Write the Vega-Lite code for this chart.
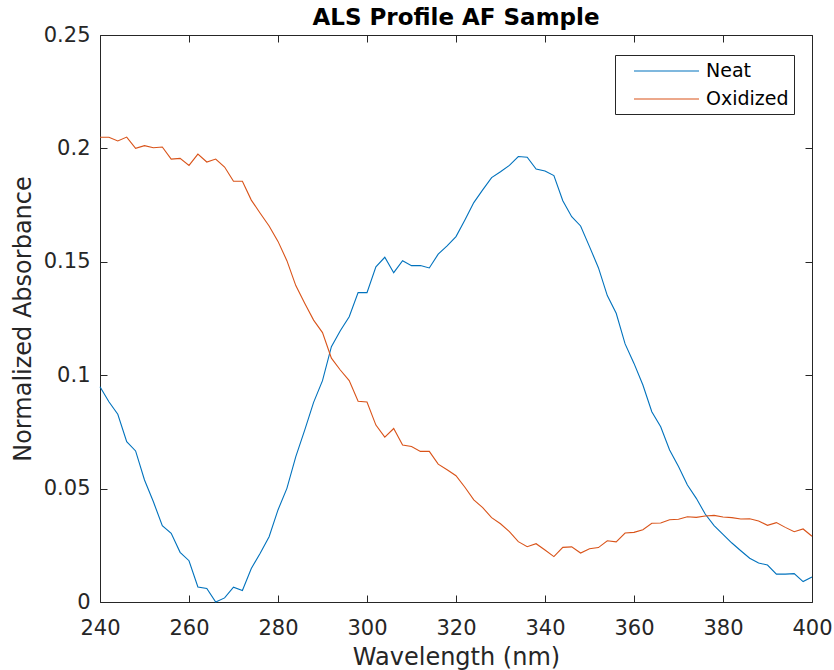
{
  "$schema": "https://vega.github.io/schema/vega-lite/v6.json",
  "autosize": {"type": "none"},
  "width": 712,
  "height": 567,
  "padding": {"left": 100, "top": 35, "right": 22, "bottom": 68},
  "background": "white",
  "config": {
    "font": "DejaVu Sans",
    "view": {"stroke": null},
    "axis": {
      "grid": false,
      "domainColor": "#262626",
      "tickColor": "#262626",
      "labelColor": "#262626",
      "titleColor": "#262626",
      "labelFont": "DejaVu Sans",
      "titleFont": "DejaVu Sans",
      "labelFontSize": 21,
      "titleFontSize": 24,
      "titleFontWeight": "normal",
      "tickSize": -7,
      "domainWidth": 1,
      "tickWidth": 1,
      "labelFlush": false,
      "labelOverlap": false
    }
  },
  "title": {
    "text": "ALS Profile AF Sample",
    "fontSize": 23,
    "fontWeight": "bold",
    "font": "DejaVu Sans",
    "color": "black",
    "offset": -6
  },
  "data": {"values": [
    {"wl":240,"s":"Neat","a":0.0949},{"wl":242,"s":"Neat","a":0.0883},{"wl":244,"s":"Neat","a":0.0828},{"wl":246,"s":"Neat","a":0.0707},{"wl":248,"s":"Neat","a":0.0666},
    {"wl":250,"s":"Neat","a":0.0538},{"wl":252,"s":"Neat","a":0.0442},{"wl":254,"s":"Neat","a":0.0336},{"wl":256,"s":"Neat","a":0.0303},{"wl":258,"s":"Neat","a":0.0219},
    {"wl":260,"s":"Neat","a":0.0182},{"wl":262,"s":"Neat","a":0.0066},{"wl":264,"s":"Neat","a":0.0060},{"wl":266,"s":"Neat","a":0.0000},{"wl":268,"s":"Neat","a":0.0018},
    {"wl":270,"s":"Neat","a":0.0065},{"wl":272,"s":"Neat","a":0.0051},{"wl":274,"s":"Neat","a":0.0148},{"wl":276,"s":"Neat","a":0.0215},{"wl":278,"s":"Neat","a":0.0288},
    {"wl":280,"s":"Neat","a":0.0406},{"wl":282,"s":"Neat","a":0.0501},{"wl":284,"s":"Neat","a":0.0641},{"wl":286,"s":"Neat","a":0.0758},{"wl":288,"s":"Neat","a":0.0880},
    {"wl":290,"s":"Neat","a":0.0976},{"wl":292,"s":"Neat","a":0.1126},{"wl":294,"s":"Neat","a":0.1196},{"wl":296,"s":"Neat","a":0.1258},{"wl":298,"s":"Neat","a":0.1364},
    {"wl":300,"s":"Neat","a":0.1364},{"wl":302,"s":"Neat","a":0.1478},{"wl":304,"s":"Neat","a":0.1520},{"wl":306,"s":"Neat","a":0.1452},{"wl":308,"s":"Neat","a":0.1505},
    {"wl":310,"s":"Neat","a":0.1483},{"wl":312,"s":"Neat","a":0.1484},{"wl":314,"s":"Neat","a":0.1473},{"wl":316,"s":"Neat","a":0.1534},{"wl":318,"s":"Neat","a":0.1570},
    {"wl":320,"s":"Neat","a":0.1611},{"wl":322,"s":"Neat","a":0.1684},{"wl":324,"s":"Neat","a":0.1761},{"wl":326,"s":"Neat","a":0.1817},{"wl":328,"s":"Neat","a":0.1871},
    {"wl":330,"s":"Neat","a":0.1897},{"wl":332,"s":"Neat","a":0.1925},{"wl":334,"s":"Neat","a":0.1964},{"wl":336,"s":"Neat","a":0.1961},{"wl":338,"s":"Neat","a":0.1909},
    {"wl":340,"s":"Neat","a":0.1900},{"wl":342,"s":"Neat","a":0.1880},{"wl":344,"s":"Neat","a":0.1769},{"wl":346,"s":"Neat","a":0.1699},{"wl":348,"s":"Neat","a":0.1658},
    {"wl":350,"s":"Neat","a":0.1567},{"wl":352,"s":"Neat","a":0.1474},{"wl":354,"s":"Neat","a":0.1351},{"wl":356,"s":"Neat","a":0.1273},{"wl":358,"s":"Neat","a":0.1138},
    {"wl":360,"s":"Neat","a":0.1052},{"wl":362,"s":"Neat","a":0.0957},{"wl":364,"s":"Neat","a":0.0839},{"wl":366,"s":"Neat","a":0.0773},{"wl":368,"s":"Neat","a":0.0670},
    {"wl":370,"s":"Neat","a":0.0597},{"wl":372,"s":"Neat","a":0.0516},{"wl":374,"s":"Neat","a":0.0457},{"wl":376,"s":"Neat","a":0.0388},{"wl":378,"s":"Neat","a":0.0337},
    {"wl":380,"s":"Neat","a":0.0298},{"wl":382,"s":"Neat","a":0.0260},{"wl":384,"s":"Neat","a":0.0226},{"wl":386,"s":"Neat","a":0.0193},{"wl":388,"s":"Neat","a":0.0172},
    {"wl":390,"s":"Neat","a":0.0163},{"wl":392,"s":"Neat","a":0.0123},{"wl":394,"s":"Neat","a":0.0123},{"wl":396,"s":"Neat","a":0.0125},{"wl":398,"s":"Neat","a":0.0090},
    {"wl":400,"s":"Neat","a":0.0110},
    {"wl":240,"s":"Oxidized","a":0.2049},{"wl":242,"s":"Oxidized","a":0.2049},{"wl":244,"s":"Oxidized","a":0.2033},{"wl":246,"s":"Oxidized","a":0.2050},{"wl":248,"s":"Oxidized","a":0.2000},
    {"wl":250,"s":"Oxidized","a":0.2012},{"wl":252,"s":"Oxidized","a":0.2003},{"wl":254,"s":"Oxidized","a":0.2006},{"wl":256,"s":"Oxidized","a":0.1953},{"wl":258,"s":"Oxidized","a":0.1956},
    {"wl":260,"s":"Oxidized","a":0.1925},{"wl":262,"s":"Oxidized","a":0.1975},{"wl":264,"s":"Oxidized","a":0.1940},{"wl":266,"s":"Oxidized","a":0.1953},{"wl":268,"s":"Oxidized","a":0.1918},
    {"wl":270,"s":"Oxidized","a":0.1855},{"wl":272,"s":"Oxidized","a":0.1855},{"wl":274,"s":"Oxidized","a":0.1772},{"wl":276,"s":"Oxidized","a":0.1714},{"wl":278,"s":"Oxidized","a":0.1658},
    {"wl":280,"s":"Oxidized","a":0.1590},{"wl":282,"s":"Oxidized","a":0.1505},{"wl":284,"s":"Oxidized","a":0.1395},{"wl":286,"s":"Oxidized","a":0.1317},{"wl":288,"s":"Oxidized","a":0.1243},
    {"wl":290,"s":"Oxidized","a":0.1188},{"wl":292,"s":"Oxidized","a":0.1075},{"wl":294,"s":"Oxidized","a":0.1023},{"wl":296,"s":"Oxidized","a":0.0976},{"wl":298,"s":"Oxidized","a":0.0885},
    {"wl":300,"s":"Oxidized","a":0.0882},{"wl":302,"s":"Oxidized","a":0.0780},{"wl":304,"s":"Oxidized","a":0.0727},{"wl":306,"s":"Oxidized","a":0.0765},{"wl":308,"s":"Oxidized","a":0.0692},
    {"wl":310,"s":"Oxidized","a":0.0686},{"wl":312,"s":"Oxidized","a":0.0664},{"wl":314,"s":"Oxidized","a":0.0664},{"wl":316,"s":"Oxidized","a":0.0608},{"wl":318,"s":"Oxidized","a":0.0583},
    {"wl":320,"s":"Oxidized","a":0.0557},{"wl":322,"s":"Oxidized","a":0.0506},{"wl":324,"s":"Oxidized","a":0.0450},{"wl":326,"s":"Oxidized","a":0.0416},{"wl":328,"s":"Oxidized","a":0.0372},
    {"wl":330,"s":"Oxidized","a":0.0345},{"wl":332,"s":"Oxidized","a":0.0310},{"wl":334,"s":"Oxidized","a":0.0266},{"wl":336,"s":"Oxidized","a":0.0244},{"wl":338,"s":"Oxidized","a":0.0257},
    {"wl":340,"s":"Oxidized","a":0.0229},{"wl":342,"s":"Oxidized","a":0.0200},{"wl":344,"s":"Oxidized","a":0.0241},{"wl":346,"s":"Oxidized","a":0.0243},{"wl":348,"s":"Oxidized","a":0.0216},
    {"wl":350,"s":"Oxidized","a":0.0235},{"wl":352,"s":"Oxidized","a":0.0240},{"wl":354,"s":"Oxidized","a":0.0270},{"wl":356,"s":"Oxidized","a":0.0265},{"wl":358,"s":"Oxidized","a":0.0304},
    {"wl":360,"s":"Oxidized","a":0.0307},{"wl":362,"s":"Oxidized","a":0.0319},{"wl":364,"s":"Oxidized","a":0.0347},{"wl":366,"s":"Oxidized","a":0.0348},{"wl":368,"s":"Oxidized","a":0.0363},
    {"wl":370,"s":"Oxidized","a":0.0365},{"wl":372,"s":"Oxidized","a":0.0376},{"wl":374,"s":"Oxidized","a":0.0373},{"wl":376,"s":"Oxidized","a":0.0379},{"wl":378,"s":"Oxidized","a":0.0382},
    {"wl":380,"s":"Oxidized","a":0.0375},{"wl":382,"s":"Oxidized","a":0.0372},{"wl":384,"s":"Oxidized","a":0.0366},{"wl":386,"s":"Oxidized","a":0.0367},{"wl":388,"s":"Oxidized","a":0.0357},
    {"wl":390,"s":"Oxidized","a":0.0338},{"wl":392,"s":"Oxidized","a":0.0350},{"wl":394,"s":"Oxidized","a":0.0329},{"wl":396,"s":"Oxidized","a":0.0310},{"wl":398,"s":"Oxidized","a":0.0322},
    {"wl":400,"s":"Oxidized","a":0.0290}
  ]},
  "resolve": {"axis": {"x": "independent", "y": "independent"}},
  "layer": [
    {
      "mark": {"type": "line", "strokeWidth": 1.1},
      "encoding": {
        "x": {"field": "wl", "type": "quantitative", "scale": {"domain": [240, 400], "nice": false},
              "axis": {"orient": "bottom", "title": "Wavelength (nm)", "values": [240,260,280,300,320,340,360,380,400], "labelPadding": 22, "titlePadding": 7}},
        "y": {"field": "a", "type": "quantitative", "scale": {"domain": [0, 0.25], "nice": false},
              "axis": {"orient": "left", "title": "Normalized Absorbance", "values": [0,0.05,0.1,0.15,0.2,0.25], "format": "~g", "labelPadding": 17, "titlePadding": 8}},
        "color": {"field": "s", "type": "nominal",
                  "scale": {"domain": ["Neat", "Oxidized"], "range": ["#0072BD", "#D95319"]},
                  "legend": {
                    "title": null, "orient": "none", "legendX": 515, "legendY": 20,
                    "symbolType": "M-3.25,0H3.25", "symbolSize": 400, "symbolStrokeWidth": 1.1,
                    "symbolOffset": 35.5,
                    "labelFontSize": 19, "labelColor": "black", "labelFont": "DejaVu Sans",
                    "strokeColor": "#262626", "fillColor": "white", "padding": 5,
                    "rowPadding": 7, "labelOffset": 28.5
                  }}
      }
    },
    {
      "mark": {"type": "line", "strokeOpacity": 0},
      "encoding": {
        "x": {"field": "wl", "type": "quantitative",
              "axis": {"orient": "top", "title": null, "labels": false, "values": [240,260,280,300,320,340,360,380,400]}},
        "y": {"field": "a", "type": "quantitative",
              "axis": {"orient": "right", "title": null, "labels": false, "values": [0,0.05,0.1,0.15,0.2,0.25]}},
        "detail": {"field": "s"}
      }
    }
  ]
}
